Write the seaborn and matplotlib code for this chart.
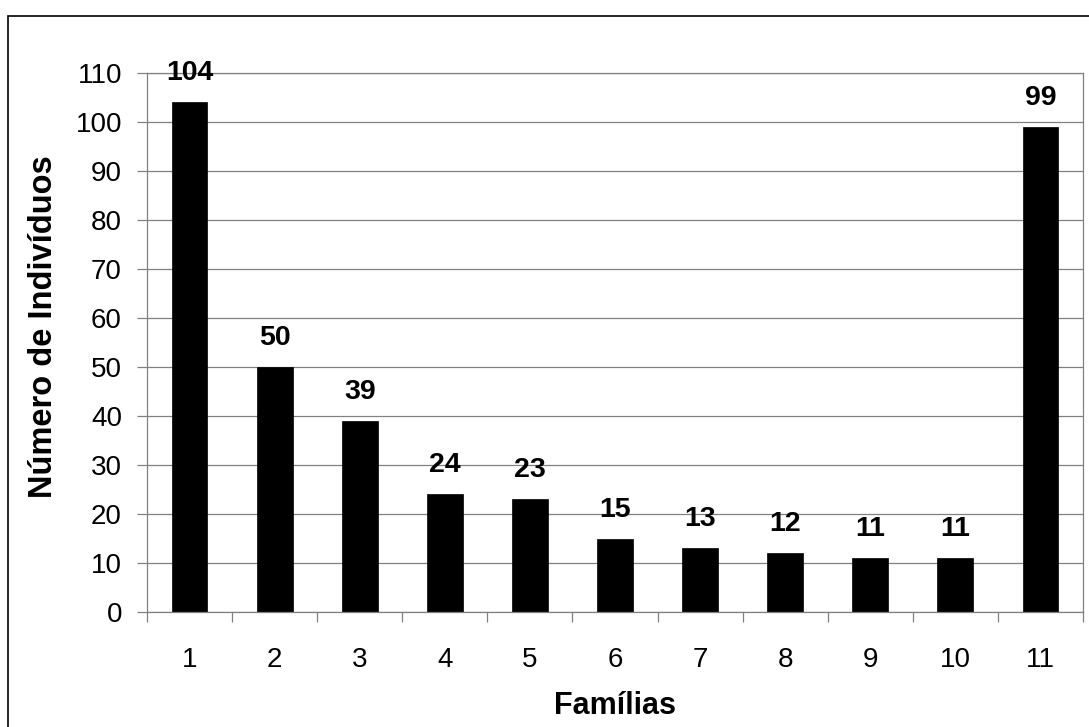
import matplotlib
matplotlib.use("Agg")
import matplotlib.pyplot as plt
from matplotlib.patches import Rectangle
from matplotlib.ticker import FixedLocator
import numpy as np
import pandas as pd
import seaborn as sns

familias = ["1", "2", "3", "4", "5", "6", "7", "8", "9", "10", "11"]
individuos = [104, 50, 39, 24, 23, 15, 13, 12, 11, 11, 99]
y_ticks = list(range(0, 111, 10))

sns.set_style("white")
plt.rcParams["font.family"] = ["Liberation Sans", "DejaVu Sans"]
plt.rcParams["text.color"] = "black"
plt.rcParams["axes.labelcolor"] = "black"
plt.rcParams["xtick.color"] = "black"
plt.rcParams["ytick.color"] = "black"

df = pd.DataFrame({"Famílias": familias, "Indivíduos": individuos})

fig = plt.figure(figsize=(10.89, 7.27), dpi=100)
ax = fig.add_axes([147 / 1089, 1 - 612 / 727, (1083 - 147) / 1089, (612 - 73) / 727])

sns.barplot(data=df, x="Famílias", y="Indivíduos", color="black",
            width=0.42, saturation=1, ax=ax, order=familias)
for p in ax.patches:
    p.set_edgecolor("black")
    p.set_linewidth(0.5)

grey = "#808080"
ax.set_ylim(0, 110)
ax.set_xlim(-0.5, len(familias) - 0.5)
ax.set_yticks(y_ticks)
ax.yaxis.grid(True, color=grey, linewidth=0.9)
ax.xaxis.grid(False)
ax.set_axisbelow(True)

for s in ax.spines.values():
    s.set_color(grey)
    s.set_linewidth(0.9)

# category labels centred, tick marks at the category boundaries
ax.xaxis.set_minor_locator(FixedLocator(np.arange(-0.5, len(familias), 1.0)))
ax.tick_params(axis="x", which="major", length=0, pad=25, labelsize=20, labelcolor="black")
ax.tick_params(axis="x", which="minor", length=7, width=0.9, color=grey, direction="out", bottom=True)
ax.tick_params(axis="y", which="major", length=7, width=0.9, color=grey, direction="out",
               left=True, pad=11, labelsize=20, labelcolor="black")

for i, v in enumerate(individuos):
    ax.annotate(str(v), xy=(i, v), xytext=(0, 15.8), textcoords="offset points",
                ha="center", va="baseline", fontsize=20.5, fontweight="bold", color="black")

ax.set_xlabel("Famílias", fontsize=22, fontweight="bold", labelpad=13, color="black")
ax.set_ylabel("Número de Indivíduos", fontsize=23.5, fontweight="bold", labelpad=12,
              color="black", y=0.53)

# outer chart frame
fig.patches.append(Rectangle((7.5 / 1089, -0.1), 1.2, 1.1 - 15.5 / 727, transform=fig.transFigure,
                             fill=False, edgecolor="black", linewidth=1.2, figure=fig))

fig.savefig("out.png", dpi=100)
